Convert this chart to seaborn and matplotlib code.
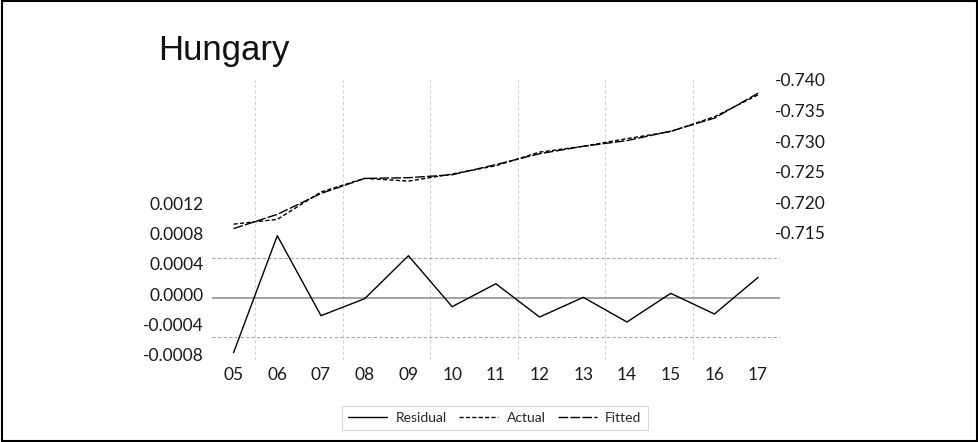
import numpy as np
import pandas as pd
import matplotlib
matplotlib.use("Agg")
import matplotlib.pyplot as plt
import matplotlib.transforms as mtransforms
from matplotlib.lines import Line2D
from matplotlib.patches import Rectangle
import seaborn as sns

# Annual observations 2005-2017
years = ["05", "06", "07", "08", "09", "10", "11", "12", "13", "14", "15", "16", "17"]
actual = [-0.71638, -0.71716, -0.72165, -0.72389, -0.72343, -0.72459, -0.72595,
          -0.72818, -0.72914, -0.73039, -0.73155, -0.73397, -0.73758]
fitted = [-0.71565, -0.71798, -0.72141, -0.72387, -0.72399, -0.72447, -0.72614,
          -0.72792, -0.72914, -0.73007, -0.73161, -0.73375, -0.73785]
residual = [-0.000728, 0.000821, -0.000238, -0.000013, 0.000556, -0.000119, 0.000185,
            -0.000256, 0.000005, -0.000322, 0.000058, -0.000216, 0.000270]
resid_se = 0.00052  # standard error of regression, drawn as +/- bands

left_ticks = [-0.0008, -0.0004, 0.0, 0.0004, 0.0008, 0.0012]
right_ticks = [-0.740, -0.735, -0.730, -0.725, -0.720, -0.715]

df = pd.DataFrame({"t": np.arange(len(years)), "Residual": residual,
                   "Actual": actual, "Fitted": fitted})

sns.set_theme(style="white")
plt.rcParams["font.family"] = ["Lato", "DejaVu Sans"]

W, H = 979, 442
fig = plt.figure(figsize=(W / 100, H / 100), dpi=100)
x0, x1, y0, y1 = 211.7, 780.0, 80.0, 360.0
ax = fig.add_axes([x0 / W, 1 - y1 / H, (x1 - x0) / W, (y1 - y0) / H])
ax2 = ax.twinx()

for a in (ax, ax2):
    for s in a.spines.values():
        s.set_visible(False)
    a.set_facecolor("none")
    a.grid(False)

# Period grid lines every two years
for g in np.arange(0.5, 12, 2.0):
    ax.axvline(g, color="#d4d4d4", lw=0.8, ls=(0, (3, 2)), zorder=0)

# Zero line and +/- one standard error bands
ax.axhline(0.0, color="#8a8a8a", lw=1.1, zorder=1)
for s in (resid_se, -resid_se):
    ax.axhline(s, color="#a8a8a8", lw=0.8, ls=(0, (3, 2)), zorder=1)

sns.lineplot(data=df, x="t", y="Residual", ax=ax, color="black", lw=1.0, zorder=3)
sns.lineplot(data=df, x="t", y="Actual", ax=ax2, color="black", lw=1.0,
             linestyle=(0, (3, 1.6)), zorder=3)
sns.lineplot(data=df, x="t", y="Fitted", ax=ax2, color="black", lw=1.0,
             linestyle=(0, (7, 1.6)), zorder=3)

ax.set_xlim(-0.5, 12.5)
ax.set_xticks(np.arange(len(years)))
ax.set_xticklabels(years)
ax.set_xlabel("")
ax.set_ylabel("")
ax2.set_ylabel("")

ax.set_ylim(-0.000825, 0.002883)
ax.set_yticks(left_ticks)
ax.set_yticklabels([f"{v:.4f}" for v in left_ticks])

ax2.set_ylim(-0.69412, -0.73972)
ax2.set_yticks(right_ticks)
ax2.set_yticklabels([f"{v:.3f}" for v in right_ticks])

ax.tick_params(axis="x", length=0, pad=5, labelsize=12.5, colors="#1a1a1a")
ax.tick_params(axis="y", length=0, pad=5.5, labelsize=12.5, colors="#1a1a1a")
ax2.tick_params(axis="y", length=0, pad=-3.6, labelsize=12.5, colors="#1a1a1a")

# Residual-axis labels sit slightly above their values
lift = mtransforms.ScaledTranslation(0, 3.5 / 100, fig.dpi_scale_trans)
for lab in ax.get_yticklabels():
    lab.set_transform(lab.get_transform() + lift)

fig.text(158 / W, 1 - 60 / H, "Hungary", fontsize=25, family=["Liberation Sans"],
         color="#111111", va="baseline", ha="left")

handles = [
    Line2D([], [], color="black", lw=1.0),
    Line2D([], [], color="black", lw=1.0, ls=(0, (3, 1.6))),
    Line2D([], [], color="black", lw=1.0, ls=(0, (7, 1.6))),
]
leg = fig.legend(handles, ["Residual", "Actual", "Fitted"], loc="center",
                 bbox_to_anchor=(495 / W, 1 - 418 / H), ncol=3, fontsize=10,
                 frameon=True, fancybox=False, handlelength=2.8,
                 handletextpad=0.6, columnspacing=0.9, borderpad=0.45)
leg.get_frame().set_edgecolor("#d0d0d0")
leg.get_frame().set_linewidth(0.8)

# Outer frame around the whole figure
fig.add_artist(Rectangle((0.002, 0.003), 0.996, 0.994, transform=fig.transFigure,
                         fill=False, edgecolor="black", lw=1.5))

fig.savefig("out.png", dpi=100)
